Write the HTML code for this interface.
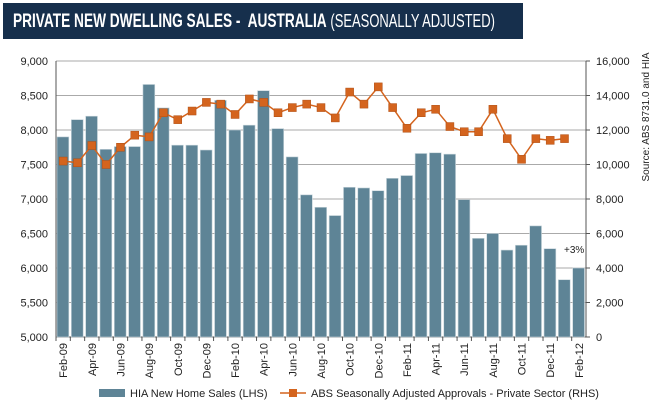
<!DOCTYPE html>
<html><head><meta charset="utf-8"><style>
body{margin:0;background:#fff;font-family:"Liberation Sans",sans-serif;}
#wrap{position:relative;width:660px;height:406px;overflow:hidden;background:#fff}
#hdr{position:absolute;left:3px;top:3px;width:520px;height:36px;background:#162f4c;color:#fff;font-size:19px;line-height:36px;padding-left:10px;box-sizing:border-box;white-space:nowrap;overflow:hidden}
#hdr span.in{display:inline-block;transform:scaleX(0.72);transform-origin:0 50%}
</style></head><body>
<div id="wrap">
<div id="hdr"><span class="in"><b>PRIVATE NEW DWELLING SALES -&nbsp; AUSTRALIA</b> <span style="font-size:18px">(SEASONALLY ADJUSTED)</span></span></div>
<svg id="svg" width="660" height="406" style="position:absolute;left:0;top:0"></svg>
</div>
<script>
const months=["Feb-09","Mar-09","Apr-09","May-09","Jun-09","Jul-09","Aug-09","Sep-09","Oct-09","Nov-09","Dec-09","Jan-10","Feb-10","Mar-10","Apr-10","May-10","Jun-10","Jul-10","Aug-10","Sep-10","Oct-10","Nov-10","Dec-10","Jan-11","Feb-11","Mar-11","Apr-11","May-11","Jun-11","Jul-11","Aug-11","Sep-11","Oct-11","Nov-11","Dec-11","Jan-12","Feb-12"];
const hiaSales=[7900,8150,8200,7720,7760,7760,8660,8320,7780,7780,7710,8430,8000,8070,8570,8020,7610,7060,6880,6760,7170,7160,7120,7300,7340,7660,7670,7650,6990,6430,6500,6260,6330,6610,6280,5830,6000];
const absApprovals=[10200,10100,11100,10000,11000,11700,11600,13000,12600,13100,13600,13500,12900,13800,13600,13000,13300,13500,13300,12700,14200,13500,14500,13300,12100,13000,13200,12200,11900,11900,13200,11500,10300,11500,11400,11500];
const leftTicks=[5000,5500,6000,6500,7000,7500,8000,8500,9000];
const rightTicks=[0,2000,4000,6000,8000,10000,12000,14000,16000];
const X0=56,X1=586,Y0=337,Y1=61;
const NS="http://www.w3.org/2000/svg";
const svg=document.getElementById('svg');
const bw=(X1-X0)/months.length;
const yL=v=>Y0-(v-5000)/4000*(Y0-Y1);
const yR=v=>Y0-v/16000*(Y0-Y1);
const xC=i=>X0+bw*(i+0.5);
function mk(t,a,p){const e=document.createElementNS(NS,t);for(const k in a)e.setAttribute(k,a[k]);(p||svg).appendChild(e);return e;}
leftTicks.forEach((v,i)=>{
 const y=yL(v);
 const g=mk('line',{x1:X0,x2:X1,y1:y,y2:y,stroke:i==0?'#555':'#aaa','stroke-width':1});
 
 
 const t=mk('text',{x:X0-8,y:y+4,'text-anchor':'end','font-size':11,fill:'#222'});
 t.textContent=v.toLocaleString('en-US');
 
 
});
rightTicks.forEach(v=>{
 const y=yR(v);
 const t=mk('text',{x:X1+10,y:y+4,'font-size':11,fill:'#222'});
 t.textContent=v.toLocaleString('en-US');
 
 
 mk('line',{x1:X1,x2:X1+4,y1:y,y2:y,stroke:'#555'});
});
mk('line',{x1:X0,x2:X0,y1:Y1,y2:Y0,stroke:'#555'});
mk('line',{x1:X1,x2:X1,y1:Y1,y2:Y0,stroke:'#555'});
hiaSales.forEach((v,i)=>{
 const r=mk('rect',{x:X0+bw*i+1,y:yL(v),width:bw-2.5,height:Y0-yL(v),fill:'#5e8496',stroke:'#c9d6dc','stroke-width':0.6});
 
 
});
months.forEach((m,i)=>{
 if(i%2==0){
  const x=xC(i);
  const t=mk('text',{x:0,y:0,'font-size':11,fill:'#222','text-anchor':'end',transform:`translate(${x+4},${Y0+6}) rotate(-90)`});
  t.textContent=m;
  
  
 }
 mk('line',{x1:X0+bw*i,x2:X0+bw*i,y1:Y0,y2:Y0+4,stroke:'#555'});
});
const pts=absApprovals.map((v,i)=>xC(i)+','+yR(v)).join(' ');
const pl=mk('polyline',{points:pts,fill:'none',stroke:'#d4641e','stroke-width':1.5});


absApprovals.forEach((v,i)=>{
 const r=mk('rect',{x:xC(i)-4,y:yR(v)-4,width:8,height:8,fill:'#d4641e',stroke:'#b04f14','stroke-width':0.5});
 
 
});
const ann=mk('text',{x:564,y:253,'font-size':10,fill:'#222'});ann.textContent='+3%';


const src=mk('text',{x:0,y:0,'font-size':10,fill:'#222','text-anchor':'middle',transform:'translate(649,117) rotate(-90)'});
src.textContent='Source: ABS 8731.0 and HIA';


const lg=mk('g',{});


const lr=mk('rect',{x:99,y:389,width:26,height:8,fill:'#5e8496'},lg);


const lt1=mk('text',{x:130,y:397,'font-size':11,fill:'#222'},lg);lt1.textContent='HIA New Home Sales (LHS)';


mk('line',{x1:280,x2:306,y1:393,y2:393,stroke:'#d4641e','stroke-width':1.5},lg);
mk('rect',{x:289,y:389,width:8,height:8,fill:'#d4641e'},lg);
const lt2=mk('text',{x:311,y:397,'font-size':11,fill:'#222'},lg);lt2.textContent='ABS Seasonally Adjusted Approvals - Private Sector (RHS)';


</script>
</body></html>
